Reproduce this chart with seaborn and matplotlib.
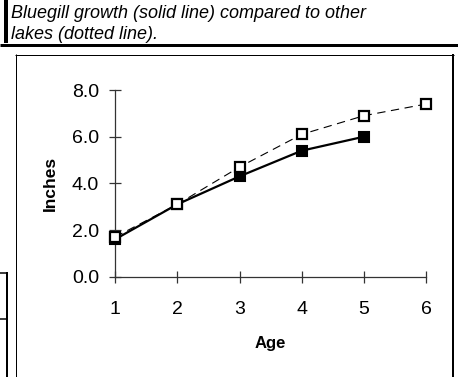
import matplotlib
matplotlib.use("Agg")
import matplotlib.pyplot as plt
from matplotlib.lines import Line2D
import seaborn as sns

# ---- data ----
ages = [1, 2, 3, 4, 5, 6]
bluegill_ages = [1, 2, 3, 4, 5]
bluegill_inches = [1.6, 3.1, 4.3, 5.4, 6.0]
other_lakes_inches = [1.7, 3.1, 4.7, 6.1, 6.9, 7.4]
y_ticks = [0, 2, 4, 6, 8]
y_tick_labels = ["0.0", "2.0", "4.0", "6.0", "8.0"]
title_text = "Bluegill growth (solid line) compared to other\nlakes (dotted line)."

sns.set_theme(style="white")
plt.rcParams["font.family"] = ["Liberation Sans", "DejaVu Sans"]
plt.rcParams["lines.scale_dashes"] = False

W, H = 458, 377
fig = plt.figure(figsize=(W / 100, H / 100), dpi=100)
ax = fig.add_axes([115 / W, 1 - 276.7 / H, (426.3 - 115) / W, (276.7 - 90) / H])

sns.lineplot(x=bluegill_ages, y=bluegill_inches, ax=ax, color="black",
             linewidth=1.6, marker="s", markersize=7.5, markerfacecolor="black",
             markeredgecolor="black", markeredgewidth=1.5, errorbar=None,
             clip_on=False, zorder=3)
sns.lineplot(x=ages, y=other_lakes_inches, ax=ax, color="black",
             linewidth=0.8, linestyle=(0, (6, 4)), marker="s", markersize=7.5,
             markerfacecolor="white", markeredgecolor="black",
             markeredgewidth=1.6, errorbar=None, clip_on=False, zorder=4)

ax.set_xlim(1, 6)
ax.set_ylim(0, 8)
ax.set_xticks(ages)
ax.set_xticklabels([str(a) for a in ages])
ax.set_yticks(y_ticks)
ax.set_yticklabels(y_tick_labels)

for s in ["top", "right"]:
    ax.spines[s].set_visible(False)
for s in ["left", "bottom"]:
    ax.spines[s].set_color("#333333")
    ax.spines[s].set_linewidth(0.9)

ax.tick_params(axis="both", bottom=True, left=True, direction="inout",
               length=9, width=0.9, color="#333333", labelsize=14,
               labelcolor="black")
ax.tick_params(axis="x", pad=13)
ax.tick_params(axis="y", pad=7)

ax.set_xlabel("Age", fontsize=12, fontweight="bold", color="black")
ax.set_ylabel("Inches", fontsize=12.5, fontweight="bold", color="black")
ax.xaxis.set_label_coords(0.5, -0.32)
ax.yaxis.set_label_coords(-0.185, 0.5)
ax.set_facecolor("white")
fig.patch.set_facecolor("white")

# ---- title ----
fig.text(11 / W, 1 - 5 / H, title_text, ha="left", va="top", fontsize=13,
         style="italic", linespacing=1.3, color="black")


def seg(x0, y0, x1, y1, lw_px, color="black"):
    fig.add_artist(Line2D([x0 / W, x1 / W], [1 - y0 / H, 1 - y1 / H],
                          transform=fig.transFigure, lw=lw_px * 0.72,
                          color=color, solid_capstyle="butt"))


# ---- frame decorations ----
seg(6, 0, 6, 43, 4)
seg(0, 44.5, W, 44.5, 3)
seg(15, 54.5, 453.5, 54.5, 1)
seg(15.5, 54, 15.5, H, 1)
seg(452.7, 54, 452.7, H, 2)
seg(15, 376.5, 452, 376.5, 1, "#cccccc")
seg(0, 272.8, 7.5, 272.8, 1.5)
seg(0, 318.5, 7.5, 318.5, 1.5)
seg(6.5, 272, 6.5, H, 2)

fig.savefig("out.png", dpi=100)
